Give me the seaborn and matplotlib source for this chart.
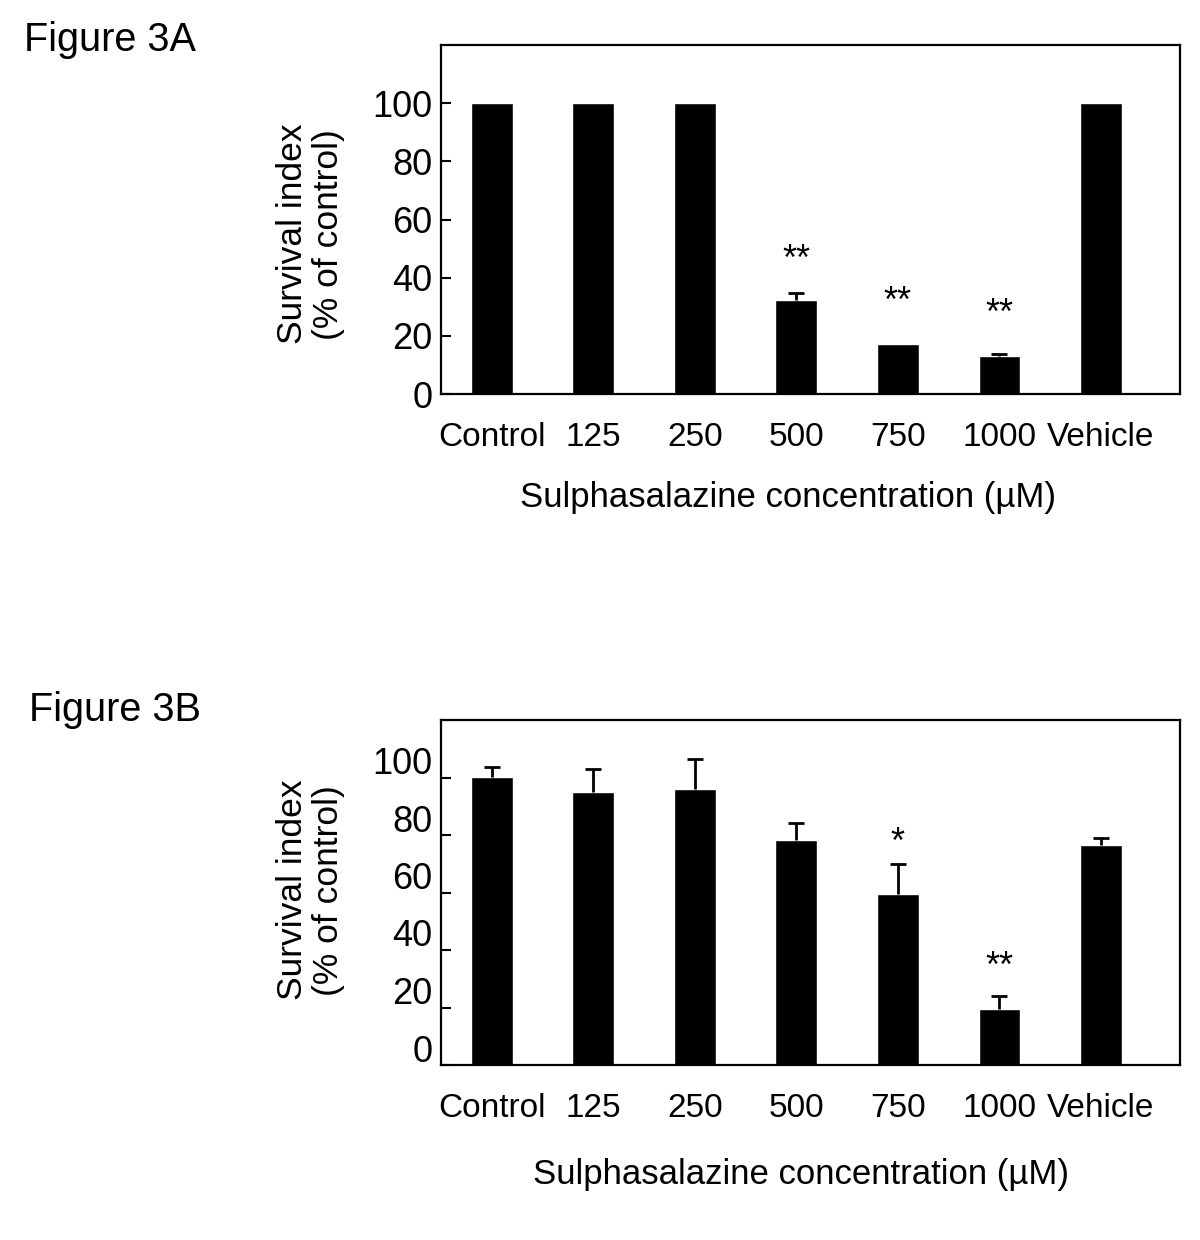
import seaborn as sns
import matplotlib.pyplot as plt
from matplotlib.transforms import ScaledTranslation

concentrations = ['Control', '125', '250', '500', '750', '1000', 'Vehicle']

survival_a = [100, 100, 100, 32.2, 17.2, 12.9, 100]
error_a = [0, 0, 0, 2.4, 0, 0.8, 0]
stars_a = {3: ('**', 46), 4: ('**', 31.5), 5: ('**', 27.5)}

survival_b = [100.2, 95.1, 96.0, 78.2, 59.6, 19.6, 76.4]
error_b = [3.4, 7.7, 10.3, 5.9, 10.3, 4.3, 2.5]
stars_b = {4: ('*', 77), 5: ('**', 34)}

yticks = [0, 20, 40, 60, 80, 100]

sns.set_style('white')
plt.rcParams['font.family'] = ['Liberation Sans', 'DejaVu Sans']
plt.rcParams['text.color'] = 'black'
plt.rcParams['axes.labelcolor'] = 'black'
plt.rcParams['xtick.color'] = 'black'
plt.rcParams['ytick.color'] = 'black'

fig = plt.figure(figsize=(12, 12.4), dpi=100)


def draw_panel(rect, values, errors, stars, title, title_pos, xlabel_y, xlabel_x, ylabel_y, label_shift=0):
    ax = fig.add_axes(rect)
    sns.barplot(x=concentrations, y=values, color='black', saturation=1,
                width=0.41, errorbar=None, ax=ax)

    # only upper error bars, only where there is an error
    idx = [i for i, e in enumerate(errors) if e > 0]
    ys = [values[i] for i in idx]
    errs = [errors[i] for i in idx]
    eb = ax.errorbar(idx, ys, yerr=[[0] * len(idx), errs],
                     fmt='none', ecolor='black', elinewidth=2, capsize=6, capthick=2)
    for cap in eb[1]:
        if list(cap.get_ydata()) == ys:
            cap.set_visible(False)

    for i, (txt, y) in stars.items():
        ax.text(i, y, txt, ha='center', va='center', fontsize=26)

    ax.set_xlim(-0.5, 6.78)
    ax.set_ylim(0, 120)
    ax.set_yticks(yticks)
    ax.set_yticklabels([str(t) for t in yticks])
    ax.tick_params(axis='y', direction='in', length=7, width=1.5, labelsize=26, pad=6, left=True)
    ax.tick_params(axis='x', length=0, labelsize=24, pad=20)
    for s in ax.spines.values():
        s.set_color('black')
        s.set_linewidth(1.6)

    ax.set_xlabel('Sulphasalazine concentration (µM)', fontsize=25)
    ax.xaxis.set_label_coords(xlabel_x, xlabel_y)
    ax.set_ylabel('Survival index\n(% of control)', fontsize=25.5, linespacing=1.1)
    ax.yaxis.set_label_coords(-0.13, ylabel_y)

    if label_shift:
        shift = ScaledTranslation(0, label_shift / 100, fig.dpi_scale_trans)
        for lab in ax.get_yticklabels():
            lab.set_transform(lab.get_transform() + shift)

    fig.text(title_pos[0], title_pos[1], title, fontsize=28.5, va='center', ha='left')
    return ax


draw_panel([441 / 1200, 1 - 394 / 1240, 739 / 1200, 349 / 1240],
           survival_a, error_a, stars_a, 'Figure 3A', (24 / 1200, 1 - 40 / 1240),
           -0.25, 0.47, 0.458)
draw_panel([441 / 1200, 1 - 1065 / 1240, 739 / 1200, 345 / 1240],
           survival_b, error_b, stars_b, 'Figure 3B', (29 / 1200, 1 - 710 / 1240),
           -0.27, 0.487, 0.507, label_shift=17)

fig.savefig('out.png', dpi=100)
